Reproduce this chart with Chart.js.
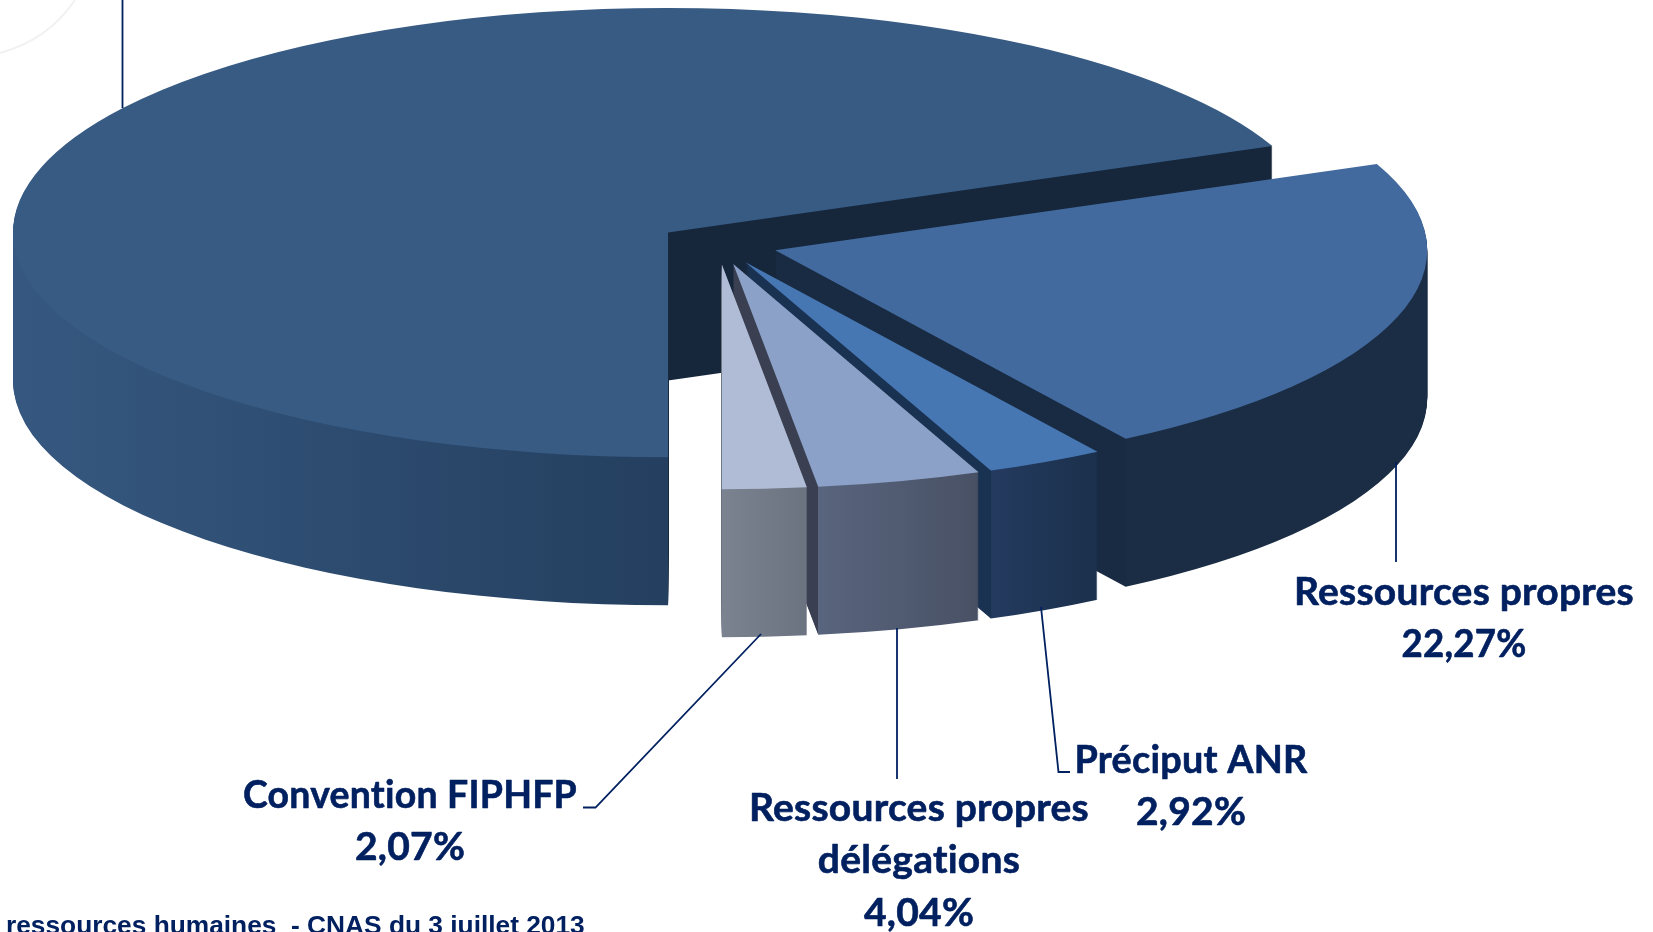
<!DOCTYPE html>
<html lang="fr">
<head>
<meta charset="utf-8">
<title>Ressources</title>
<style>html,body{margin:0;padding:0;background:#fff;overflow:hidden}canvas{display:block}</style>
<script src="https://cdn.jsdelivr.net/npm/chart.js@4"></script>
</head>
<body>
<canvas id="c" width="1653" height="932"></canvas>
<script>
const categories = ["", "Ressources propres", "Préciput ANR", "Ressources propres délégations", "Convention FIPHFP"];
const shares = [68.70, 22.27, 2.92, 4.04, 2.07];
const topColors = ["#385b84", "#426a9e", "#4777b3", "#8ca1c7", "#b0bcd5"];
const wallStart = ["#365880", "#1b2d44", "#243b60", "#59647e", "#7b8290"];
const wallEnd = ["#243f5f", "#1b2d44", "#1b304b", "#485164", "#6b7280"];
const wallEdge = ["#16263b", "#182b43", "#1a3252", "#3a4052", "#6b7280"];
const radiusTrim = [0, 3, 0, 0, 0];

const RADIUS = 655, SQUASH = 0.343, DEPTH = 148, EXPLODE = 60;
const INK = "#002060";
const PERCENT_WIDTH = 125;

const labelLayout = [
  {i: 1, x: 1464, y: 605, width: 340, lines: ["Ressources propres"]},
  {i: 2, x: 1191, y: 773, width: 233, lines: ["Préciput ANR"]},
  {i: 3, x: 919, y: 821, width: 340, lines: ["Ressources propres", "délégations"]},
  {i: 4, x: 410, y: 808, width: 334, lines: ["Convention FIPHFP"]}
];
const leaders = [
  [[122.5, 0], [122.5, 108]],
  [[1396, 462], [1396, 562]],
  [[1041, 607], [1058.5, 772], [1070, 772]],
  [[897, 628], [897, 779]],
  [[761, 634], [595.5, 807.5], [583, 807.5]]
];

function wallFill(ctx, arc, i) {
  const cx = arc.x, r = arc.outerRadius;
  if (i === 0) {
    const g = ctx.createLinearGradient(cx - r, 0, cx + r, 0);
    g.addColorStop(0, wallStart[0]);
    g.addColorStop(0.5, wallEnd[0]);
    g.addColorStop(0.5, wallEdge[0]);
    g.addColorStop(1, wallEdge[0]);
    return g;
  }
  const xc = cx + r * Math.cos(arc.endAngle);
  const xm = cx + r * (arc.startAngle < 0 ? 1 : Math.cos(arc.startAngle));
  const g = ctx.createLinearGradient(cx, 0, xm, 0);
  const t = Math.max(0, Math.min(1, (xc - cx) / (xm - cx)));
  g.addColorStop(0, wallEdge[i]);
  g.addColorStop(t, wallEdge[i]);
  g.addColorStop(t, wallStart[i]);
  g.addColorStop(1, wallEnd[i]);
  return g;
}

const extrudedPie = {
  id: "extrudedPie",
  beforeDatasetsDraw(chart) {
    const ctx = chart.ctx;
    const arcs = chart.getDatasetMeta(0).data;
    arcs.forEach((arc, i) => {
      const mid = (arc.startAngle + arc.endAngle) / 2;
      const dx = Math.cos(mid) * EXPLODE, dy = Math.sin(mid) * EXPLODE;
      const paint = (drop, fill) => {
        ctx.save();
        ctx.translate(0, arc.y + drop);
        ctx.scale(1, SQUASH);
        ctx.translate(dx, -arc.y + dy);
        const view = Object.create(arc);
        view.outerRadius = arc.outerRadius - radiusTrim[i];
        view.options = Object.assign({}, arc.options, {backgroundColor: fill(ctx)});
        arc.constructor.prototype.draw.call(view, ctx);
        ctx.restore();
      };
      const wf = c => wallFill(c, arc, i);
      for (let d = DEPTH; d >= 1; d--) paint(d, wf);
      paint(0, () => topColors[i]);
    });
    return false;
  },
  afterDraw(chart) {
    const ctx = chart.ctx;
    ctx.save();
    ctx.strokeStyle = "#f1f1f1";
    ctx.lineWidth = 2;
    ctx.beginPath();
    ctx.moveTo(0, 53);
    ctx.quadraticCurveTo(48, 40, 75, 0);
    ctx.stroke();

    ctx.strokeStyle = INK;
    ctx.lineWidth = 1.8;
    leaders.forEach(pts => {
      ctx.beginPath();
      pts.forEach((p, k) => k ? ctx.lineTo(p[0], p[1]) : ctx.moveTo(p[0], p[1]));
      ctx.stroke();
    });

    ctx.fillStyle = INK;
    ctx.strokeStyle = INK;
    ctx.lineWidth = 0.6;
    ctx.lineJoin = "round";
    ctx.textAlign = "center";
    ctx.textBaseline = "alphabetic";
    ctx.font = "bold 39px Lato";
    ctx.letterSpacing = "0.25px";
    labelLayout.forEach(l => {
      const rows = l.lines.concat(shares[l.i].toFixed(2).replace(".", ",") + "%");
      rows.forEach((t, k) => {
        const w = k === rows.length - 1 ? PERCENT_WIDTH : l.width;
        ctx.fillText(t, l.x, l.y + k * 52.3, w);
        ctx.strokeText(t, l.x, l.y + k * 52.3, w);
      });
    });
    ctx.letterSpacing = "0px";
    ctx.textAlign = "left";
    ctx.font = "bold 26.3px 'Liberation Sans'";
    ctx.fillText("ressources humaines  - CNAS du 3 juillet 2013", 6, 934);
    ctx.restore();
  }
};

new Chart(document.getElementById("c"), {
  type: "pie",
  data: {
    labels: categories,
    datasets: [{data: shares, backgroundColor: topColors, borderWidth: 0}]
  },
  options: {
    responsive: false,
    animation: false,
    rotation: 180,
    radius: RADIUS,
    layout: {padding: {left: 0, top: 0, right: 217, bottom: 444}},
    plugins: {legend: {display: false}, tooltip: {enabled: false}}
  },
  plugins: [extrudedPie]
});
</script>
</body>
</html>
